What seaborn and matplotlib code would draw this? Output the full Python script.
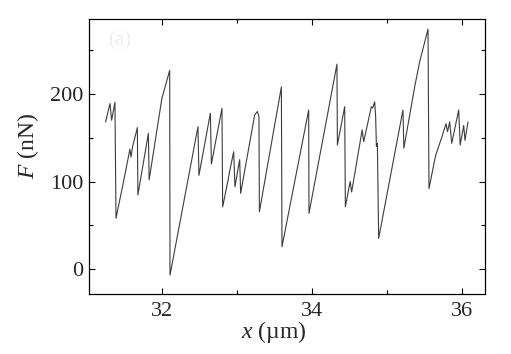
import matplotlib
matplotlib.use("Agg")
import matplotlib.pyplot as plt
import seaborn as sns
import pandas as pd
from matplotlib.ticker import MultipleLocator

# trace vertices (x in um, F in nN)
x_um = [31.253, 31.280, 31.311, 31.333, 31.377, 31.391, 31.480, 31.577, 31.591,
        31.613, 31.676, 31.683, 31.823, 31.833, 32.003, 32.013, 32.107, 32.111,
        32.484, 32.497, 32.649, 32.663, 32.804, 32.813, 32.884, 32.907, 32.960,
        32.977, 33.040, 33.053, 33.240, 33.276, 33.297, 33.303, 33.596, 33.604,
        33.960, 33.964, 34.337, 34.343, 34.440, 34.449, 34.513, 34.533, 34.673,
        34.693, 34.796, 34.813, 34.840, 34.853, 34.863, 34.876, 34.893, 35.217,
        35.229, 35.373, 35.440, 35.551, 35.564, 35.653, 35.707, 35.729, 35.791,
        35.811, 35.840, 35.867, 35.960, 35.980, 36.027, 36.044, 36.084]
force_nN = [168, 178, 189, 170, 190.5, 58, 95, 137, 128,
            140, 161.5, 84.6, 155, 102, 195, 198, 227, -7,
            162.6, 107, 178, 120, 183.6, 71, 101, 112, 134,
            94, 125, 86.5, 176, 180, 174, 65.5, 208, 25.5,
            181.7, 63.6, 234, 141.7, 185.5, 71, 100, 88, 159,
            145.5, 185.5, 184, 191, 174, 140, 143.6, 35, 181.7,
            138, 208, 237, 274, 92, 130, 143.6, 149, 166,
            157, 168, 143.6, 181.7, 141.7, 164, 147, 168]

df = pd.DataFrame({"x": x_um, "F": force_nN})

sns.set_style("ticks")
plt.rcParams["font.family"] = ["Liberation Serif", "DejaVu Serif"]
plt.rcParams["mathtext.fontset"] = "custom"
plt.rcParams["mathtext.rm"] = "Liberation Serif"
plt.rcParams["mathtext.it"] = "Liberation Serif:italic"

fig = plt.figure(figsize=(5.11, 3.54), dpi=100)
ax = fig.add_axes([0.174, 0.1695, 0.775, 0.7765])

sns.lineplot(data=df, x="x", y="F", sort=False, estimator=None,
             color="#3c3c3c", linewidth=0.8, ax=ax)

ax.set_xlim(31.03, 36.31)
ax.set_ylim(-28.5, 285.5)
ax.xaxis.set_major_locator(MultipleLocator(2))
ax.xaxis.set_minor_locator(MultipleLocator(1))
ax.yaxis.set_major_locator(MultipleLocator(100))
ax.yaxis.set_minor_locator(MultipleLocator(50))
ax.tick_params(which="both", direction="in", top=True, right=True,
               labelsize=16, width=0.8, color="black")
ax.tick_params(which="major", length=4)
ax.tick_params(which="minor", length=3)
ax.tick_params(axis="x", pad=6)
ax.tick_params(axis="y", pad=4)
for s in ax.spines.values():
    s.set_linewidth(0.9)
    s.set_color("black")

ax.set_xlabel("$x$ (µm)", fontsize=17)
ax.set_ylabel("$F$ (nN)", fontsize=17)
ax.xaxis.label.set_va("center")
ax.yaxis.label.set_va("center")
ax.xaxis.set_label_coords(0.466, -0.138)
ax.yaxis.set_label_coords(-0.154, 0.538)

# faint panel tag in the upper left
ax.text(0.078, 0.92, "(a)", transform=ax.transAxes, fontsize=15,
        color="#eeeeee", ha="center", va="center")

fig.savefig("out.png", dpi=100)
